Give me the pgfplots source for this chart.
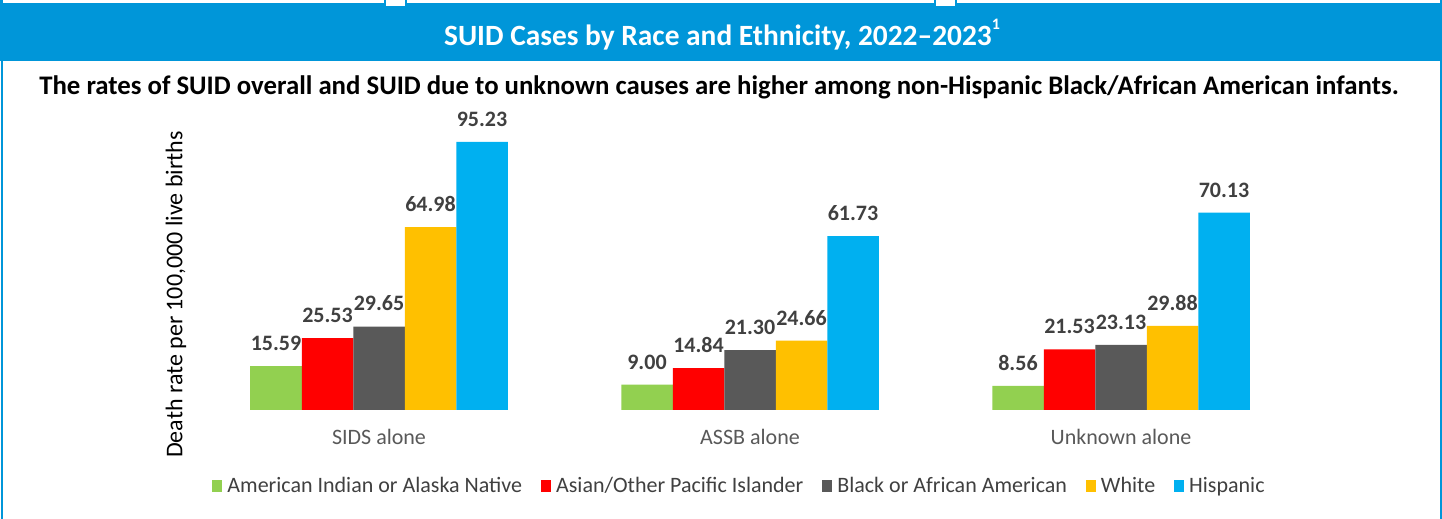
\documentclass[border=0pt]{standalone}
\usepackage{pgfplots}
\pgfplotsset{compat=1.18}
\usepackage{fontspec}
\setmainfont{Carlito}
\definecolor{tblue}{HTML}{0096D9}
\definecolor{cgreen}{HTML}{92D050}
\definecolor{cred}{HTML}{FF0000}
\definecolor{cgray}{HTML}{595959}
\definecolor{cyellow}{HTML}{FFC000}
\definecolor{cblue}{HTML}{00B0F0}
\definecolor{lbl}{HTML}{404040}
\definecolor{tick}{HTML}{595959}
\begin{document}
\begin{tikzpicture}
\begin{scope}[x=0.5pt,y=0.5pt]
\fill[white] (0,0) rectangle (1442,519);
\useasboundingbox (0,0) rectangle (1442,519);
% frame
\fill[tblue] (0,458) rectangle (1442,519);
\fill[white] (3,515.7) rectangle (384,519.5);
\fill[white] (407,515.7) rectangle (934,519.5);
\fill[white] (957,515.7) rectangle (1440,519.5);
\fill[white] (386,513) rectangle (405,519.5);
\fill[white] (936,513) rectangle (955,519.5);
\fill[tblue] (1,0) rectangle (3,519);
\fill[tblue] (1440,0) rectangle (1442,519);
% titles
\node[text=white, font=\bfseries\fontsize{14.7pt}{17pt}\selectfont] at (722,484) {SUID Cases by Race and Ethnicity, 2022–2023\raisebox{0.55em}{\fontsize{8pt}{9pt}\selectfont 1}};
\node[text=black, font=\bfseries\fontsize{13.4pt}{16pt}\selectfont] at (719,432) {The rates of SUID overall and SUID due to unknown causes are higher among non-Hispanic Black/African American infants.};
\end{scope}
\begin{axis}[
  at={(96.75pt,54.5pt)}, anchor=south west,
  scale only axis, width=556.5pt, height=140.75pt,
  xmin=-0.5, xmax=2.5, ymin=0, ymax=100,
  enlargelimits=false, clip=false,
  ybar=0pt, bar width=25.75pt,
  axis line style={draw=none},
  major tick length=0pt,
  ytick=\empty,
  xtick={0,1,2},
  xticklabels={SIDS alone, ASSB alone, Unknown alone},
  xticklabel style={anchor=base, yshift=-17.5pt, text=tick, font=\fontsize{11pt}{13pt}\selectfont},
  ylabel={Death rate per 100,000 live births},
  ylabel style={at={(axis description cs:-0.0157,0.41)}, anchor=center, text=black, font=\fontsize{12pt}{14pt}\selectfont},
  /pgf/number format/.cd, fixed, fixed zerofill, precision=2, assume math mode=true,
  /pgfplots/.cd,
  nodes near coords,
  every node near coord/.append style={anchor=south, inner sep=0pt, yshift=7.5pt, text=lbl, font=\bfseries\fontsize{11pt}{13pt}\selectfont},
  legend columns=5,
  legend style={at={(0.4897,-0.270)}, anchor=center, draw=none, fill=none,
    font=\fontsize{11pt}{13pt}\selectfont, text=lbl,
    nodes={inner sep=0pt},
    /tikz/every odd column/.append style={column sep=2.5pt},
    /tikz/every even column/.append style={column sep=9.5pt}},
  legend image code/.code={\fill[#1] (0pt,-2.8pt) rectangle (5pt,2.8pt);},
]
\addplot[fill=cgreen, draw=none] coordinates {(0,15.59) (1,9.00) (2,8.56)};
\addplot[fill=cred, draw=none] coordinates {(0,25.53) (1,14.84) (2,21.53)};
\addplot[fill=cgray, draw=none] coordinates {(0,29.65) (1,21.30) (2,23.13)};
\addplot[fill=cyellow, draw=none] coordinates {(0,64.98) (1,24.66) (2,29.88)};
\addplot[fill=cblue, draw=none] coordinates {(0,95.23) (1,61.73) (2,70.13)};
\legend{American Indian or Alaska Native, Asian/Other Pacific Islander, Black or African American, White, Hispanic}
\end{axis}
\end{tikzpicture}
\end{document}
